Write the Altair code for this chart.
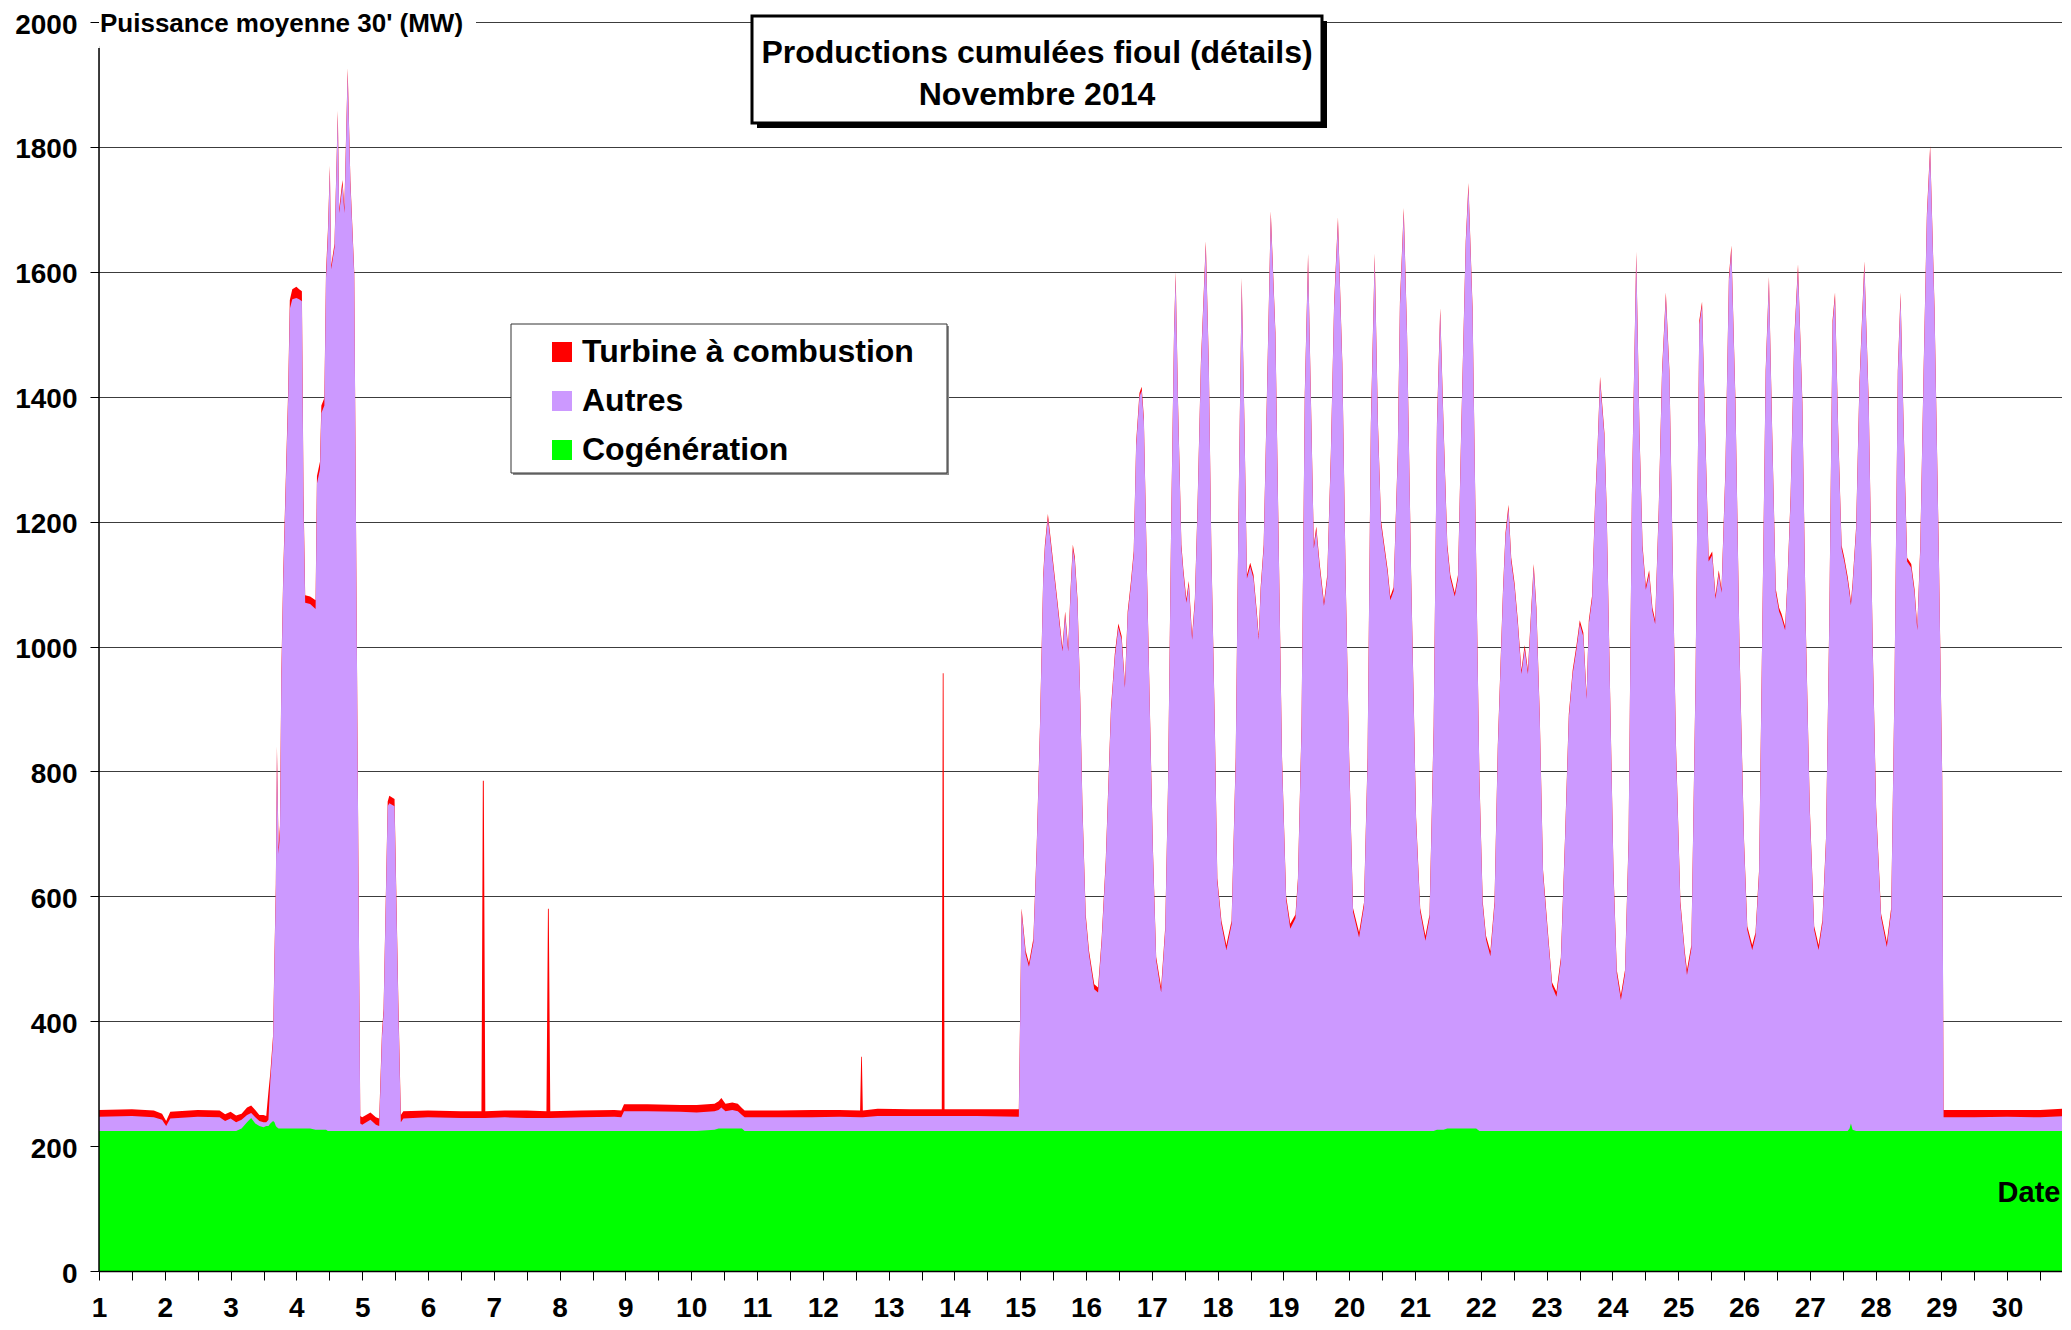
import altair as alt
import pandas as pd

# ---------------- values ----------------
# time in hours since 1 Nov 2014 00:00 (half-hourly source, key points)
hours = [
    0, 12, 20, 23, 24.5, 26, 36, 44, 46, 48, 50, 52,
    54, 55.5, 57, 58.5, 60, 61, 61.8, 62.5, 63.5, 64, 64.5, 64.9,
    65.5, 66, 66.5, 67.2, 69, 69.6, 70.5, 72, 73, 74, 74.6, 75.2,
    77, 79, 79.5, 80.6, 81.1, 82.2, 82.8, 83.5, 84.2, 84.7, 85.9, 87.1,
    87.6, 88.8, 89.5, 90.7, 91.7, 93.1, 94.3, 95.3, 96, 99, 101, 102.2,
    103.2, 103.8, 105.3, 105.9, 107.8, 109.2, 110.1, 111, 120, 132, 139.5, 140.0, 140.35,
    140.9, 148, 156, 163.2, 163.75, 164.05, 164.6, 176, 188, 190.5, 191.5, 200, 212,
    218, 224.5, 226, 227, 228.5, 231, 233, 234.5, 235.5, 248, 260, 270,
    277.6, 278.0, 278.25, 278.6, 284, 296, 307.4, 307.75, 308.05, 308.4, 320, 335.5,
    336.5, 338, 339.2, 340.8, 342, 343.2, 344.4, 345, 346.1, 347.1, 348.3, 349.5,
    351.4, 352.4, 353.5, 354.4, 355.2, 355.9, 356.9, 357.9, 358.7, 359.9, 361.1, 363,
    364.4, 365.7, 367.2, 369.1, 370.5, 371.8, 373, 374.2, 375.2, 376.4, 377.4, 378.3,
    379.5, 380.3, 381.1, 381.9, 383.2, 384.4, 385.6, 387.4, 388.9, 389.9, 391.1, 392.1,
    392.7, 393.6, 394.8, 395.5, 396.6, 397.5, 398.7, 399.7, 400.6, 401.9, 403.7, 404.8,
    405.7, 407, 407.9, 409.4, 411.2, 413.1, 414.6, 415.6, 416.8, 417.8, 418.7, 419.9,
    421.1, 422.3, 423, 423.7, 424.8, 426, 427.4, 429.1, 430.3, 431.5, 433, 434.5,
    436.4, 437.3, 438.6, 439.8, 441, 442, 443.1, 444, 445.2, 446.8, 448, 449.3,
    450.5, 451.9, 453.5, 454.7, 456, 457.4, 459.6, 461.4, 462.7, 463.9, 465.3, 466.5,
    467.6, 468.8, 470, 471, 472.2, 473.7, 474.5, 475.9, 477.1, 478.6, 480.4, 481.9,
    483.8, 485.3, 486.8, 488, 489.2, 490.4, 491.8, 492.9, 494.5, 495.7, 496.9, 498.5,
    499.5, 501, 502.3, 503.5, 504.7, 505.9, 507.5, 509, 510.2, 512.1, 513, 514.1,
    515.1, 516.3, 517.5, 518.8, 520, 521.2, 522.4, 523.3, 524.3, 525.5, 526.7, 528.5,
    530, 531.6, 533.2, 534.7, 536.1, 537.5, 538.9, 540.1, 541.4, 542.6, 543.4, 544.6,
    545.6, 546.6, 547.5, 549.1, 549.9, 551.1, 552.4, 553.6, 555.1, 556.6, 557.9, 559.1,
    560.7, 561.9, 563, 564.2, 565.4, 566.6, 567.6, 568.9, 570.1, 571.5, 572.8, 574,
    575.2, 576.8, 578.4, 579.2, 580.8, 582.3, 583.7, 584.7, 585.9, 587.1, 588.4, 589.6,
    590.8, 591.8, 593.2, 594.5, 595.4, 596.9, 598.4, 600, 601.2, 603, 604.2, 605.5,
    606.7, 607.9, 609.1, 610.3, 611.6, 612.8, 613.7, 615, 615.9, 617, 618.3, 619.7,
    621.3, 622.5, 624, 625.6, 627.2, 628.6, 629.9, 631.1, 632.3, 633.2, 634.4, 635.6,
    636.6, 637.8, 638.5, 639, 639.6, 640.9, 642.1, 643.9, 645.5, 647, 648.2, 650,
    652.1, 653.7, 654.9, 656.1, 657.1, 658.3, 659.5, 661, 662.2, 663.2, 664.3, 665.5,
    666.7, 667.9, 669.5, 671.1, 672.3, 672.8, 684, 696, 708, 716, 719, 720,
]

# Cogénération (MW)
cogeneration = [
    224, 224, 224, 224, 224, 224, 224, 224, 224, 224, 224, 228,
    238, 245, 236, 232, 230, 232, 232, 236, 240, 238, 232, 230,
    228, 228, 228, 228, 228, 228, 228, 228, 228, 228, 228, 228,
    228, 226, 226, 226, 226, 226, 226, 224, 224, 224, 224, 224,
    224, 224, 224, 224, 224, 224, 224, 224, 224, 224, 224, 224,
    224, 224, 224, 224, 224, 224, 224, 224, 224, 224, 224, 224, 224,
    224, 224, 224, 224, 224, 224, 224, 224, 224, 224, 224, 224, 224,
    224, 226, 228, 228, 228, 228, 228, 228, 224, 224, 224, 224,
    224, 224, 224, 224, 224, 224, 224, 224, 224, 224, 224, 224,
    224, 224, 224, 224, 224, 224, 224, 224, 224, 224, 224, 224,
    224, 224, 224, 224, 224, 224, 224, 224, 224, 224, 224, 224,
    224, 224, 224, 224, 224, 224, 224, 224, 224, 224, 224, 224,
    224, 224, 224, 224, 224, 224, 224, 224, 224, 224, 224, 224,
    224, 224, 224, 224, 224, 224, 224, 224, 224, 224, 224, 224,
    224, 224, 224, 224, 224, 224, 224, 224, 224, 224, 224, 224,
    224, 224, 224, 224, 224, 224, 224, 224, 224, 224, 224, 224,
    224, 224, 224, 224, 224, 224, 224, 224, 224, 224, 224, 224,
    224, 224, 224, 224, 224, 224, 224, 224, 224, 224, 224, 224,
    224, 224, 224, 224, 224, 224, 224, 224, 224, 224, 224, 224,
    224, 224, 224, 226, 226, 226, 228, 228, 228, 228, 228, 228,
    228, 228, 228, 224, 224, 224, 224, 224, 224, 224, 224, 224,
    224, 224, 224, 224, 224, 224, 224, 224, 224, 224, 224, 224,
    224, 224, 224, 224, 224, 224, 224, 224, 224, 224, 224, 224,
    224, 224, 224, 224, 224, 224, 224, 224, 224, 224, 224, 224,
    224, 224, 224, 224, 224, 224, 224, 224, 224, 224, 224, 224,
    224, 224, 224, 224, 224, 224, 224, 224, 224, 224, 224, 224,
    224, 224, 224, 224, 224, 224, 224, 224, 224, 224, 224, 224,
    224, 224, 224, 224, 224, 224, 224, 224, 224, 224, 224, 224,
    224, 224, 224, 224, 224, 224, 224, 224, 224, 224, 224, 224,
    224, 224, 228, 236, 226, 224, 224, 224, 224, 224, 224, 224,
    224, 224, 224, 224, 224, 224, 224, 224, 224, 224, 224, 224,
    224, 224, 224, 224, 224, 224, 224, 224, 224, 224, 224, 224,
]

# Autres (MW)
autres = [
    23, 24, 22, 18, 8, 20, 23, 22, 16, 20, 14, 14,
    12, 8, 10, 8, 8, 6, 10, 70, 130, 260, 380, 600,
    440, 475, 720, 880, 1170, 1313, 1328, 1330, 1328, 1325, 1000, 842,
    840, 834, 1035, 1058, 1148, 1160, 1364, 1435, 1540, 1380, 1415, 1628,
    1470, 1515, 1470, 1696, 1516, 1370, 620, 12, 10, 18, 10, 8,
    150, 190, 520, 525, 520, 196, 14, 20, 22, 21, 21, 21, 21,
    21, 22, 21, 21, 21, 21, 21, 22, 23, 22, 32, 32, 31,
    30, 30, 30, 34, 28, 30, 28, 22, 22, 22, 22, 23,
    22, 22, 22, 22, 24, 24, 24, 24, 24, 24, 24, 23,
    351, 283, 263, 302, 448, 642, 885, 933, 982, 943, 894, 846,
    768, 826, 768, 865, 933, 914, 846, 690, 516, 341, 283, 227,
    222, 302, 428, 671, 758, 807, 787, 710, 826, 875, 923, 1098,
    1176, 1186, 1137, 962, 690, 448, 273, 222, 321, 545, 982, 1273,
    1370, 1156, 933, 894, 846, 875, 787, 846, 982, 1224, 1419, 1224,
    933, 642, 399, 331, 290, 331, 593, 982, 1360, 1127, 885, 904,
    885, 826, 787, 865, 933, 1176, 1467, 1273, 933, 593, 370, 324,
    341, 399, 642, 1176, 1399, 1176, 933, 962, 904, 841, 885, 1079,
    1321, 1457, 1224, 885, 593, 351, 310, 360, 593, 1127, 1399, 1127,
    972, 933, 894, 850, 865, 1079, 1321, 1472, 1273, 885, 496, 351,
    305, 341, 642, 1125, 1310, 1125, 929, 881, 852, 881, 1123, 1415,
    1508, 1308, 908, 562, 362, 307, 280, 362, 612, 862, 952, 997,
    912, 872, 812, 732, 772, 732, 832, 902, 832, 662, 412, 312,
    232, 215, 272, 462, 662, 732, 772, 812, 792, 692, 812, 852,
    992, 1092, 1202, 1112, 992, 712, 412, 252, 210, 252, 462, 1012,
    1402, 1112, 932, 867, 892, 832, 812, 992, 1212, 1337, 1212, 912,
    612, 362, 282, 250, 292, 712, 1292, 1322, 1112, 912, 922, 852,
    892, 862, 1052, 1362, 1412, 1162, 762, 462, 322, 290, 312, 412,
    812, 1212, 1362, 1112, 862, 832, 822, 802, 882, 1012, 1262, 1382,
    1162, 812, 512, 322, 290, 332, 462, 812, 1292, 1337, 1112, 932,
    912, 882, 856, 830, 870, 962, 1192, 1387, 1162, 762, 512, 342,
    295, 352, 712, 1212, 1337, 1112, 912, 902, 862, 802, 932, 1212,
    1462, 1572, 1312, 912, 562, 22, 22, 23, 22, 24, 28, 28,
]

# Turbine à combustion (MW)
turbine = [
    11, 11, 11, 10, 8, 11, 11, 11, 11, 11, 11, 10,
    12, 12, 12, 10, 12, 10, 45, 12, 8, 8, 8, 10,
    10, 10, 10, 10, 12, 14, 16, 18, 16, 16, 14, 12,
    12, 14, 12, 12, 12, 12, 10, 8, 6, 6, 6, 6,
    6, 8, 8, 6, 6, 6, 6, 12, 12, 12, 12, 12,
    8, 6, 8, 12, 12, 10, 12, 12, 11, 11, 11, 540, 540,
    11, 11, 12, 11, 335, 335, 11, 11, 11, 11, 11, 11, 11,
    12, 12, 14, 15, 12, 12, 12, 11, 11, 11, 12, 11,
    11, 97, 97, 11, 12, 11, 11, 709, 709, 11, 11, 12,
    6, 6, 6, 6, 6, 6, 6, 6, 6, 6, 6, 6,
    6, 6, 6, 6, 6, 6, 6, 6, 6, 6, 6, 8,
    8, 6, 6, 6, 6, 6, 6, 6, 6, 6, 6, 6,
    6, 6, 6, 6, 6, 6, 6, 8, 6, 6, 6, 6,
    6, 6, 6, 6, 6, 6, 6, 6, 6, 6, 6, 6,
    6, 6, 6, 6, 8, 6, 6, 6, 6, 6, 6, 6,
    6, 6, 6, 6, 6, 6, 6, 6, 6, 6, 6, 8,
    6, 6, 6, 6, 6, 6, 6, 6, 6, 6, 6, 6,
    6, 6, 6, 6, 6, 6, 8, 6, 6, 6, 6, 6,
    6, 6, 6, 6, 6, 6, 6, 6, 6, 6, 6, 6,
    8, 6, 6, 6, 6, 6, 6, 6, 6, 6, 6, 6,
    6, 6, 6, 6, 6, 6, 8, 6, 6, 6, 6, 6,
    6, 6, 6, 6, 6, 6, 6, 6, 6, 6, 6, 6,
    6, 8, 6, 6, 6, 6, 6, 6, 6, 6, 6, 6,
    6, 6, 6, 6, 6, 6, 6, 6, 8, 6, 6, 6,
    6, 6, 6, 6, 6, 6, 6, 6, 6, 6, 6, 6,
    6, 6, 6, 8, 6, 6, 6, 6, 6, 6, 6, 6,
    6, 6, 6, 6, 6, 6, 6, 6, 6, 8, 6, 6,
    6, 6, 6, 6, 6, 6, 6, 6, 6, 6, 6, 6,
    6, 6, 6, 6, 8, 6, 6, 6, 6, 6, 6, 6,
    6, 6, 6, 6, 6, 6, 6, 6, 6, 6, 6, 6,
    8, 6, 6, 6, 6, 6, 6, 6, 6, 6, 6, 6,
    6, 6, 6, 6, 6, 12, 12, 11, 12, 12, 12, 12,
]

series_names = ["Turbine à combustion", "Autres", "Cogénération"]
series_colors = ["#FF0000", "#CC99FF", "#00FF00"]
y_ticks = [0, 200, 400, 600, 800, 1000, 1200, 1400, 1600, 1800, 2000]
x_ticks = [1 + 0.5 * i for i in range(60)]
title_lines = ["Productions cumulées fioul (détails)", "Novembre 2014"]
y_title = "Puissance moyenne 30' (MW)"
x_title = "Date"

# ---------------- table ----------------
n = len(hours)
assert len(cogeneration) == n and len(autres) == n and len(turbine) == n, (
    n, len(cogeneration), len(autres), len(turbine))

rows = []
for h, c, a, t in zip(hours, cogeneration, autres, turbine):
    d = 1 + h / 24.0
    # cumulated levels (painter order: total first, then lower layers on top)
    rows.append({"jour": d, "serie": series_names[0], "haut": c + a + t, "bas": 0})
    rows.append({"jour": d, "serie": series_names[1], "haut": c + a, "bas": 0})
    rows.append({"jour": d, "serie": series_names[2], "haut": c, "bas": 0})
df = pd.DataFrame(rows)

FONT = "Liberation Sans"
W = 1963
H = 1249
X_END = 1 + W / 65.8

xscale = alt.Scale(domain=[1, X_END], nice=False, zero=False)
yscale = alt.Scale(domain=[0, 2000], nice=False)

xaxis = alt.Axis(
    values=x_ticks, labelExpr="datum.value % 1 == 0 ? format(datum.value, 'd') : ''",
    title=None, grid=False, domainColor="black", domainWidth=1.5, tickColor="black",
    tickWidth=1, tickSize=9, labelFont=FONT, labelFontSize=28, labelFontWeight="bold",
    labelColor="black", labelPadding=36, labelBaseline="alphabetic",
    labelOverlap=False, labelFlush=False, zindex=1,
)
yaxis = alt.Axis(
    values=y_ticks, format="d", title=None, grid=True, gridColor="#3c3c3c", gridWidth=1,
    domain=False, tickColor="black", tickWidth=1, tickSize=9, labelFont=FONT,
    labelFontSize=28, labelFontWeight="bold", labelColor="black", labelPadding=13,
    labelOffset=3, labelFlush=False, labelOverlap=False,
)
legend = alt.Legend(
    orient="none", legendX=447, legendY=314, direction="vertical", title=None,
    symbolType="square", symbolSize=400, symbolStrokeWidth=0, labelFont=FONT,
    labelFontSize=32, labelFontWeight="bold", labelColor="black", labelOffset=4,
    labelLimit=700, rowPadding=17, padding=0,
)

base = alt.Chart(df)
layers = []
for name in series_names:
    layers.append(
        base.transform_filter(alt.datum.serie == name)
        .mark_area(clip=True, interpolate="linear")
        .encode(
            x=alt.X("jour:Q", scale=xscale, axis=xaxis),
            y=alt.Y("haut:Q", scale=yscale, axis=yaxis, stack=None),
            y2=alt.Y2("bas:Q"),
            color=alt.Color("serie:N", scale=alt.Scale(domain=series_names, range=series_colors),
                            legend=legend),
        )
    )

one = pd.DataFrame({"k": [0]})
deco = alt.Chart(one)

# white patch behind the y title (hides the 2000 grid line there)
patch = deco.mark_rect(fill="white").encode(
    x=alt.value(0), x2=alt.value(377), y=alt.value(-14), y2=alt.value(24))
y_axis_line = deco.mark_rule(color="black", strokeWidth=1.5).encode(
    x=alt.value(0), y=alt.value(26), y2=alt.value(H))
y_title_txt = deco.mark_text(text=y_title, font=FONT, fontSize=26, fontWeight="bold",
                             align="left", baseline="middle", color="black").encode(
    x=alt.value(1), y=alt.value(2))
date_txt = deco.mark_text(text=x_title, font=FONT, fontSize=29, fontWeight="bold",
                          align="center", baseline="middle", color="black").encode(
    x=alt.value(1930), y=alt.value(1171))

# title box with shadow
t_shadow = deco.mark_rect(fill="black").encode(
    x=alt.value(658), x2=alt.value(1228), y=alt.value(-1), y2=alt.value(106))
t_box = deco.mark_rect(fill="white", stroke="black", strokeWidth=3).encode(
    x=alt.value(653), x2=alt.value(1223), y=alt.value(-6), y2=alt.value(101))
t_line1 = deco.mark_text(text=title_lines[0], font=FONT, fontSize=32, fontWeight="bold",
                         align="center", baseline="middle", color="black").encode(
    x=alt.value(938), y=alt.value(31))
t_line2 = deco.mark_text(text=title_lines[1], font=FONT, fontSize=32, fontWeight="bold",
                         align="center", baseline="middle", color="black").encode(
    x=alt.value(938), y=alt.value(73))

# legend frame
l_shadow = deco.mark_rect(fill="#8c8c8c").encode(
    x=alt.value(414), x2=alt.value(850), y=alt.value(304), y2=alt.value(453))
l_box = deco.mark_rect(fill="white", stroke="#333333", strokeWidth=1).encode(
    x=alt.value(412), x2=alt.value(848), y=alt.value(302), y2=alt.value(451))

chart = alt.layer(
    *layers, patch, y_axis_line, y_title_txt, date_txt,
    t_shadow, t_box, t_line1, t_line2, l_shadow, l_box,
).properties(
    width=W, height=H,
    autosize=alt.AutoSizeParams(type="none"),
    padding={"left": 91, "top": 14, "right": 0, "bottom": 51},
    background="white",
).configure_view(strokeWidth=0).configure(font=FONT)

chart.save("out.html", embed_options={"renderer": "svg", "actions": False})
